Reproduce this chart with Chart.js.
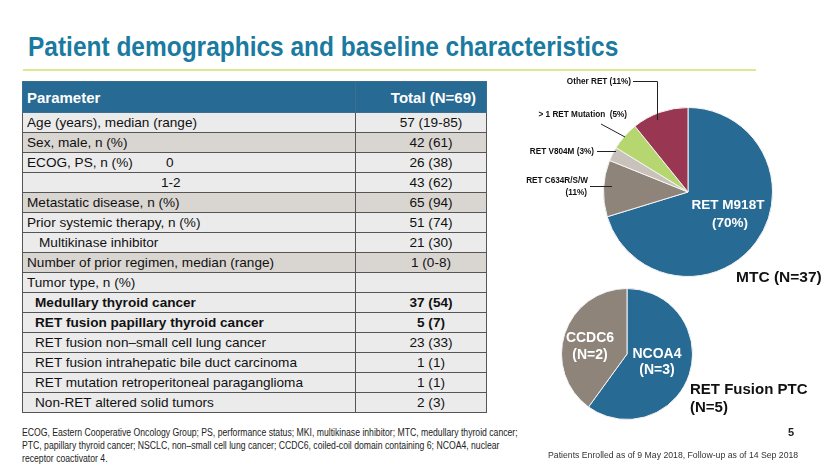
<!DOCTYPE html>
<html>
<head>
<meta charset="utf-8">
<script src="https://cdn.jsdelivr.net/npm/chart.js@4.4.1/dist/chart.umd.min.js"></script>
<style>
  body { margin: 0; width: 830px; height: 467px; background: #fff; position: relative; overflow: hidden; font-family: "Liberation Sans", Arial, sans-serif; }
  .title { position: absolute; left: 28px; top: 31px; font-weight: bold; font-size: 27.5px; line-height: 32px; color: #1a7a9f; white-space: nowrap; transform: scaleX(0.89); transform-origin: left top; }
  .rule { position: absolute; left: 23px; top: 69px; width: 733px; height: 2px; background: #d8eb92; }
  table { position: absolute; left: 22px; top: 81px; width: 464px; border-collapse: collapse; table-layout: fixed; font-size: 13.6px; color: #111; }
  td, th { border: 1px solid #555; padding: 0 4px; height: 19px; white-space: nowrap; overflow: hidden; }
  th { background: #276a93; color: #fff; font-size: 15px; height: 30px; text-align: left; border-color: #3a6f8f; }
  th.v { text-align: right; padding-right: 10px; }
  td.v { text-align: center; padding-left: 24px; }
  tr.lt td { background: #ebebeb; }
  tr.dk td { background: #d9d5d1; }
  tr.b td { font-weight: bold; }
  .main { display: inline-block; }
  .note { position: absolute; left: 22px; top: 426px; font-size: 10px; line-height: 13px; color: #222; white-space: nowrap; transform: scaleX(0.865); transform-origin: left top; }
  .enrol { position: absolute; left: 548px; top: 450px; font-size: 8.7px; color: #333; white-space: nowrap; }
  .page { position: absolute; left: 788px; top: 426px; font-size: 11px; font-weight: bold; color: #222; }
  .cap { position: absolute; font-weight: bold; color: #111; white-space: nowrap; }
  canvas { position: absolute; }
</style>
</head>
<body>
<div class="title">Patient demographics and baseline characteristics</div>
<div class="rule"></div>
<table id="tbl">
  <colgroup><col style="width:333px"><col style="width:131px"></colgroup>
  <thead><tr><th>Parameter</th><th class="v">Total (N=69)</th></tr></thead>
  <tbody></tbody>
</table>
<canvas id="mtc" width="330" height="230" style="left:500px;top:70px"></canvas>
<canvas id="ptc" width="300" height="140" style="left:530px;top:285px"></canvas>
<div class="cap" style="left:736px;top:268px;font-size:15.5px">MTC (N=37)</div>
<div class="cap" style="left:690px;top:380px;font-size:15px;line-height:18px">RET Fusion PTC<br>(N=5)</div>
<div class="page">5</div>
<div class="note">ECOG, Eastern Cooperative Oncology Group; PS, performance status; MKI, multikinase inhibitor; MTC, medullary thyroid cancer;<br>PTC, papillary thyroid cancer; NSCLC, non–small cell lung cancer; CCDC6, coiled-coil domain containing 6; NCOA4, nuclear<br>receptor coactivator 4.</div>
<div class="enrol">Patients Enrolled as of 9 May 2018, Follow-up as of 14 Sep 2018</div>
<script>
// table rows
const params = [
  'Age (years), median (range)',
  'Sex, male, n (%)',
  'ECOG, PS, n (%)',
  '',
  'Metastatic disease, n (%)',
  'Prior systemic therapy, n (%)',
  'Multikinase inhibitor',
  'Number of prior regimen, median (range)',
  'Tumor type, n (%)',
  'Medullary thyroid cancer',
  'RET fusion papillary thyroid cancer',
  'RET fusion non–small cell lung cancer',
  'RET fusion intrahepatic bile duct carcinoma',
  'RET mutation retroperitoneal paraganglioma',
  'Non-RET altered solid tumors'
];
const subLabels = ['', '', '0', '1-2', '', '', '', '', '', '', '', '', '', '', ''];
const totals = ['57 (19-85)', '42 (61)', '26 (38)', '43 (62)', '65 (94)', '51 (74)', '21 (30)', '1 (0-8)', '', '37 (54)', '5 (7)', '23 (33)', '1 (1)', '1 (1)', '2 (3)'];
const shaded = [0, 1, 0, 0, 1, 0, 0, 1, 0, 0, 0, 0, 0, 0, 0];
const bold = [0, 0, 0, 0, 0, 0, 0, 0, 0, 1, 1, 0, 0, 0, 0];
const indent = [0, 0, 0, 0, 0, 0, 12, 0, 0, 8, 8, 8, 8, 8, 8];

// MTC pie
const mtcLabels = ['RET M918T', 'RET C634R/S/W', 'RET V804M', '> 1 RET Mutation', 'Other RET'];
const mtcCounts = [26, 4, 1, 2, 4];
const mtcPct = ['70%', '11%', '3%', '5%', '11%'];
const mtcColors = ['#276a93', '#8e847a', '#c9c2ba', '#b6d76f', '#993651'];

// RET fusion PTC pie
const ptcLabels = ['NCOA4', 'CCDC6'];
const ptcCounts = [3, 2];
const ptcColors = ['#276a93', '#8e847a'];

const tbody = document.querySelector('#tbl tbody');
params.forEach((p, i) => {
  const tr = document.createElement('tr');
  tr.className = (shaded[i] ? 'dk' : 'lt') + (bold[i] ? ' b' : '');
  const td1 = document.createElement('td');
  td1.style.paddingLeft = (4 + indent[i]) + 'px';
  if (subLabels[i]) {
    const m = document.createElement('span');
    m.className = 'main';
    m.style.width = (subLabels[i] === '0' ? 139 : 134) + 'px';
    m.innerHTML = p || '&nbsp;';
    td1.appendChild(m);
    td1.appendChild(document.createTextNode(subLabels[i]));
  } else {
    td1.textContent = p;
  }
  const td2 = document.createElement('td');
  td2.className = 'v';
  td2.textContent = totals[i];
  tr.appendChild(td1);
  tr.appendChild(td2);
  tbody.appendChild(tr);
});

const mtcLabelPlugin = {
  id: 'mtcLabels',
  afterDraw(chart) {
    const arc = chart.getDatasetMeta(0).data[0];
    const cx = arc.x, cy = arc.y;
    const ctx = chart.ctx;
    ctx.save();
    // inside label
    ctx.fillStyle = '#fff';
    ctx.textAlign = 'center';
    ctx.textBaseline = 'middle';
    ctx.font = 'bold 13.5px "Liberation Sans", Arial, sans-serif';
    ctx.fillText(mtcLabels[0], cx + 40, cy + 13);
    ctx.fillText('(' + mtcPct[0] + ')', cx + 42, cy + 31);
    // outside labels
    ctx.fillStyle = '#111';
    ctx.textAlign = 'right';
    ctx.font = 'bold 8.2px "Liberation Sans", Arial, sans-serif';
    ctx.fillText(mtcLabels[4] + ' (' + mtcPct[4] + ')', cx - 57, cy - 110);
    ctx.fillText(mtcLabels[3] + '  (' + mtcPct[3] + ')', cx - 61, cy - 77);
    ctx.fillText(mtcLabels[2] + ' (' + mtcPct[2] + ')', cx - 94, cy - 40);
    ctx.fillText(mtcLabels[1], cx - 100, cy - 11);
    ctx.fillText('(' + mtcPct[1] + ')', cx - 101, cy + 1);
    ctx.strokeStyle = '#222';
    ctx.lineWidth = 1;
    ctx.beginPath();
    ctx.moveTo(cx - 55, cy - 110.5); ctx.lineTo(cx - 30.5, cy - 110.5); ctx.lineTo(cx - 30.5, cy - 72);
    ctx.moveTo(cx - 87, cy - 68); ctx.lineTo(cx - 63, cy - 55);
    ctx.moveTo(cx - 91, cy - 40.5); ctx.lineTo(cx - 72, cy - 40.5);
    ctx.moveTo(cx - 98, cy - 5.5); ctx.lineTo(cx - 76, cy - 5.5);
    ctx.stroke();
    ctx.restore();
  }
};

const ptcLabelPlugin = {
  id: 'ptcLabels',
  afterDraw(chart) {
    const arc = chart.getDatasetMeta(0).data[0];
    const cx = arc.x, cy = arc.y;
    const ctx = chart.ctx;
    ctx.save();
    ctx.fillStyle = '#fff';
    ctx.textAlign = 'center';
    ctx.textBaseline = 'middle';
    ctx.font = 'bold 14px "Liberation Sans", Arial, sans-serif';
    ctx.fillText(ptcLabels[1], cx - 37, cy - 16);
    ctx.fillText('(N=' + ptcCounts[1] + ')', cx - 37, cy + 1);
    ctx.fillText(ptcLabels[0], cx + 30, cy);
    ctx.fillText('(N=' + ptcCounts[0] + ')', cx + 30, cy + 16);
    ctx.restore();
  }
};

const baseOptions = (padding) => ({
  responsive: false,
  animation: false,
  layout: { padding: padding },
  plugins: { legend: { display: false }, tooltip: { enabled: false } }
});

new Chart(document.getElementById('mtc'), {
  type: 'pie',
  data: {
    labels: mtcLabels,
    datasets: [{ data: mtcCounts, backgroundColor: mtcColors, borderColor: '#f4f4f4', borderWidth: 1 }]
  },
  options: baseOptions({ left: 103, right: 57, top: 37, bottom: 23 }),
  plugins: [mtcLabelPlugin]
});

new Chart(document.getElementById('ptc'), {
  type: 'pie',
  data: {
    labels: ptcLabels,
    datasets: [{ data: ptcCounts, backgroundColor: ptcColors, borderColor: '#f4f4f4', borderWidth: 1 }]
  },
  options: baseOptions({ left: 31, right: 137, top: 3, bottom: 5 }),
  plugins: [ptcLabelPlugin]
});
</script>
</body>
</html>
